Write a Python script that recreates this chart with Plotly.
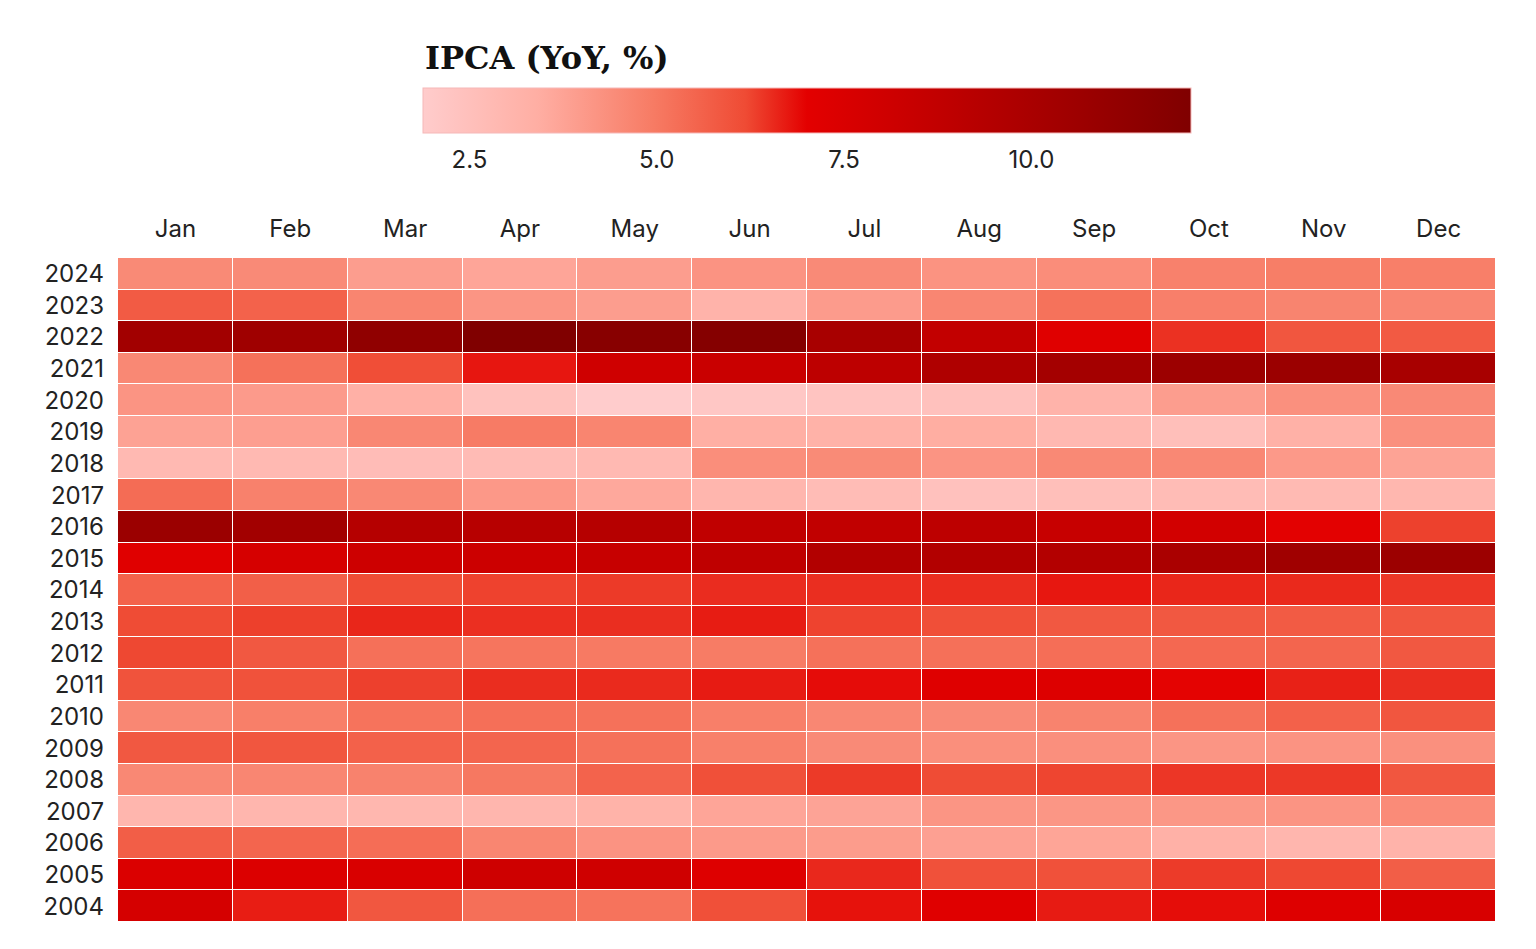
import plotly.graph_objects as go

months = ["Jan", "Feb", "Mar", "Apr", "May", "Jun", "Jul", "Aug", "Sep", "Oct", "Nov", "Dec"]
years = [str(y) for y in range(2004, 2025)]

# IPCA, 12-month accumulated (%), one row per year, Jan..Dec
ipca_2004 = [7.71, 6.69, 5.89, 5.26, 5.15, 6.06, 6.81, 7.18, 6.71, 6.86, 7.24, 7.60]
ipca_2005 = [7.41, 7.39, 7.54, 8.07, 8.05, 7.27, 6.57, 6.02, 6.04, 6.36, 6.22, 5.69]
ipca_2006 = [5.70, 5.51, 5.32, 4.63, 4.23, 4.03, 3.97, 3.84, 3.70, 3.26, 3.02, 3.14]
ipca_2007 = [2.99, 3.02, 2.96, 3.00, 3.18, 3.69, 3.74, 4.18, 4.15, 4.12, 4.19, 4.46]
ipca_2008 = [4.56, 4.61, 4.73, 5.04, 5.58, 6.06, 6.37, 6.17, 6.25, 6.41, 6.39, 5.90]
ipca_2009 = [5.84, 5.90, 5.61, 5.53, 5.20, 4.80, 4.50, 4.36, 4.34, 4.17, 4.22, 4.31]
ipca_2010 = [4.59, 4.83, 5.17, 5.26, 5.22, 4.84, 4.60, 4.49, 4.70, 5.20, 5.63, 5.91]
ipca_2011 = [5.99, 6.01, 6.30, 6.51, 6.55, 6.71, 6.87, 7.23, 7.31, 6.97, 6.64, 6.50]
ipca_2012 = [6.22, 5.85, 5.24, 5.10, 4.99, 4.92, 5.20, 5.24, 5.28, 5.45, 5.53, 5.84]
ipca_2013 = [6.15, 6.31, 6.59, 6.49, 6.50, 6.70, 6.27, 6.09, 5.86, 5.84, 5.77, 5.91]
ipca_2014 = [5.59, 5.68, 6.15, 6.28, 6.37, 6.52, 6.50, 6.51, 6.75, 6.59, 6.56, 6.41]
ipca_2015 = [7.14, 7.70, 8.13, 8.17, 8.47, 8.89, 9.56, 9.53, 9.49, 9.93, 10.48, 10.67]
ipca_2016 = [10.71, 10.36, 9.39, 9.28, 9.32, 8.84, 8.74, 8.97, 8.48, 7.87, 6.99, 6.29]
ipca_2017 = [5.35, 4.76, 4.57, 4.08, 3.60, 3.00, 2.71, 2.46, 2.54, 2.70, 2.80, 2.95]
ipca_2018 = [2.86, 2.84, 2.68, 2.76, 2.86, 4.39, 4.48, 4.19, 4.53, 4.56, 4.05, 3.75]
ipca_2019 = [3.78, 3.89, 4.58, 4.94, 4.66, 3.37, 3.22, 3.43, 2.89, 2.54, 3.27, 4.31]
ipca_2020 = [4.19, 4.01, 3.30, 2.40, 1.88, 2.13, 2.31, 2.44, 3.14, 3.92, 4.31, 4.52]
ipca_2021 = [4.56, 5.20, 6.10, 6.76, 8.06, 8.35, 8.99, 9.68, 10.25, 10.67, 10.74, 10.06]
ipca_2022 = [10.38, 10.54, 11.30, 12.13, 11.73, 11.89, 10.07, 8.73, 7.17, 6.47, 5.90, 5.79]
ipca_2023 = [5.77, 5.60, 4.65, 4.18, 3.94, 3.16, 3.99, 4.61, 5.19, 4.82, 4.68, 4.62]
ipca_2024 = [4.51, 4.50, 3.93, 3.69, 3.93, 4.23, 4.50, 4.24, 4.42, 4.76, 4.87, 4.83]

z = [ipca_2004, ipca_2005, ipca_2006, ipca_2007, ipca_2008, ipca_2009, ipca_2010,
     ipca_2011, ipca_2012, ipca_2013, ipca_2014, ipca_2015, ipca_2016, ipca_2017,
     ipca_2018, ipca_2019, ipca_2020, ipca_2021, ipca_2022, ipca_2023, ipca_2024]

scale = [[0.0, "#ffcccc"], [0.15, "#ffaea3"], [0.3, "#f77b64"],
         [0.42, "#ef4b34"], [0.5, "#e30000"], [1.0, "#800000"]]

fig = go.Figure(go.Heatmap(
    z=z, x=months, y=years,
    colorscale=scale,
    xgap=1, ygap=1,
    colorbar=dict(
        orientation="h",
        x=0.5, xanchor="center", xpad=0,
        y=1.256, yanchor="top", ypad=0,
        len=768, lenmode="pixels",
        thickness=45,
        outlinewidth=1, outlinecolor="#f5b8b8",
        ticks="outside", ticklen=6, tickcolor="rgba(0,0,0,0)",
        tickvals=[2.5, 5.0, 7.5, 10.0], ticktext=["2.5", "5.0", "7.5", "10.0"],
        tickfont=dict(family="Inter", size=24, color="#222"),
    ),
))

fig.add_annotation(text="<b>IPCA (YoY, %)</b>", xref="paper", yref="paper",
                   x=0.2213, y=1.301, xanchor="left", yanchor="middle",
                   showarrow=False,
                   font=dict(family="DejaVu Serif", size=32, color="#111"))

fig.update_xaxes(side="top", showgrid=False, zeroline=False, ticks="",
                 ticklabelstandoff=15,
                 tickfont=dict(family="Inter", size=24, color="#222"))
fig.update_yaxes(showgrid=False, zeroline=False, ticks="",
                 ticklabelstandoff=13,
                 tickfont=dict(family="Inter", size=24, color="#222"))

fig.update_layout(
    width=1536, height=949,
    margin=dict(l=110, r=48, t=250, b=35, autoexpand=False),
    plot_bgcolor="white", paper_bgcolor="white",
    font=dict(family="Inter"),
)

fig.write_html("out.html")
